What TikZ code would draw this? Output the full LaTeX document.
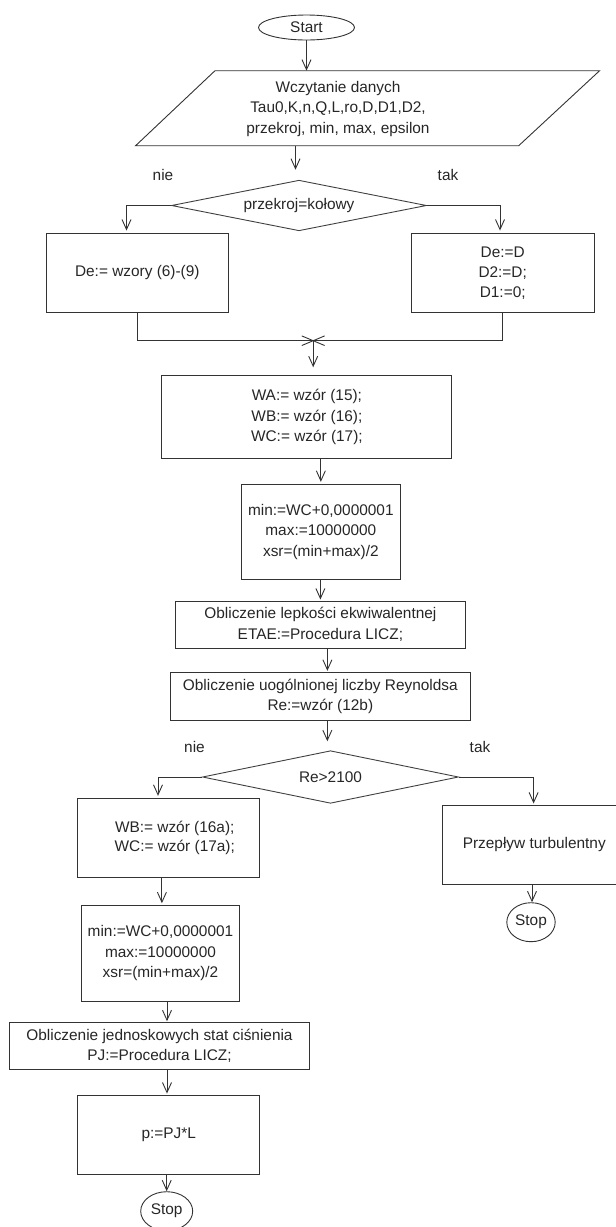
\documentclass[tikz,border=0pt]{standalone}
\usepackage{fontspec}
\setmainfont{Liberation Sans}
\usetikzlibrary{shapes.geometric,arrows.meta}
\begin{document}
\begin{tikzpicture}[x=1pt,y=1pt,
  every node/.style={font=\fontsize{15.4}{20.5}\selectfont, text=black!85},
  box/.style={draw=black!80, line width=0.9pt, rectangle, inner sep=1pt, align=center},
  term/.style={draw=black!80, line width=0.9pt, ellipse, inner sep=0pt},
  dec/.style={draw=black!75, line width=0.9pt, diamond, aspect=5, inner sep=0pt},
  conn/.style={draw=black!80, line width=0.9pt},
  arr/.style={conn, -{Straight Barb[length=10pt,width=9pt]}},
  lbl/.style={inner sep=0pt}
]
\useasboundingbox (0,0) rectangle (616,-1227);
\clip (0,0) rectangle (616,-1227);

% start and input
\node[term, minimum width=96pt, minimum height=25pt] (start) at (306.5,-27.5) {Start};
\draw[conn] (215,-70.7) -- (599.6,-70.7) -- (518.7,-145.7) -- (135.6,-145.7) -- cycle;
\node[align=center, inner sep=0pt] (input) at (338,-108.7) {Wczytanie danych\\Tau0,K,n,Q,L,ro,D,D1,D2,\\przekroj, min, max, epsilon};
\coordinate (inTop) at (306.5,-70.7);
\coordinate (inBot) at (295.5,-145.7);
\draw[arr] (start.south) -- (inTop);

% first decision
\node[dec, minimum width=255pt, minimum height=50.6pt] (d1) at (299,-205.5) {przekroj=kołowy};
\draw[arr, shorten >=10pt] (inBot) -- (inBot |- d1.north);
\node[lbl] (nie1) at (163,-175) {nie};
\node[lbl] (tak1) at (448,-175) {tak};

\node[box, minimum width=182.7pt, minimum height=79.7pt] (b1) at (137.3,-272.85) {De:= wzory (6)-(9)};
\node[box, minimum width=182.6pt, minimum height=79.7pt, font=\fontsize{15.4}{20}\selectfont] (b2) at (502.7,-272.85) {De:=D\\D2:=D;\\D1:=0;};
\draw[arr, shorten >=2pt] (d1.west) -| ([xshift=-10.8pt]b1.north);
\draw[arr, shorten >=2pt] (d1.east) -| ([xshift=-2.7pt]b2.north);

% merge
\coordinate (m) at (313.2,-340.7);
\draw[conn] (b1.south) |- (m) -| (b2.south);
\draw[conn] ([shift={(-11.4,4.8)}]m) -- ([shift={(11.4,-4.8)}]m);
\draw[conn] ([shift={(-11.4,-4.8)}]m) -- ([shift={(11.4,4.8)}]m);

\node[box, minimum width=290pt, minimum height=82.6pt] (wa) at (306.9,-417) {WA:= wzór (15);\\WB:= wzór (16);\\WC:= wzór (17);};
\draw[arr, shorten >=8pt] (m) -- (m |- wa.north);

\node[box, minimum width=158.3pt, minimum height=95pt] (min1) at (320.85,-531.8) {min:=WC+0,0000001\\max:=10000000\\xsr=(min+max)/2};
\draw[arr, shorten >=2pt] (min1.north |- wa.south) -- (min1.north);

\node[box, minimum width=289.6pt, minimum height=47pt] (lep) at (320.4,-624.5) {Obliczenie lepkości ekwiwalentnej\\ETAE:=Procedura LICZ;};
\draw[arr, shorten >=1pt] (lep.north |- min1.south) -- (lep.north);

\node[box, minimum width=300.7pt, minimum height=48pt] (rey) at (320.35,-696.3) {Obliczenie uogólnionej liczby Reynoldsa\\Re:=wzór (12b)};
\draw[arr, shorten >=1pt] ([xshift=7pt]lep.south) -- ([xshift=7pt]lep.south |- rey.north);

% second decision
\node[dec, minimum width=256pt, minimum height=52.6pt] (d2) at (330.5,-777) {Re>2100};
\draw[arr, shorten >=9pt] ([xshift=7pt]rey.south) -- ([xshift=7pt]rey.south |- d2.north);
\node[lbl] (nie2) at (194.5,-746.7) {nie};
\node[lbl] (tak2) at (480,-746.7) {tak};

\node[box, minimum width=181.9pt, minimum height=79.4pt, font=\fontsize{15.4}{19.5}\selectfont] (wb) at (168.75,-838) {\hspace*{12pt}WB:= wzór (16a);\\\hspace*{12pt}WC:= wzór (17a);};
\node[box, minimum width=183.3pt, minimum height=79.3pt] (turb) at (534.3,-844.6) {Przepływ turbulentny};
\draw[arr, shorten >=2pt] (d2.west) -| ([xshift=-10.75pt]wb.north);
\draw[arr, shorten >=1pt] (d2.east) -| ([xshift=-0.7pt]turb.north);

\node[term, minimum width=48.4pt, minimum height=39pt] (stop2) at (531,-922.2) {Stop};
\draw[arr] ([xshift=1pt]stop2.north |- turb.south) -- ([xshift=1pt]stop2.north);

\node[box, minimum width=158.4pt, minimum height=95.3pt] (min2) at (160.5,-953.35) {min:=WC+0,0000001\\max:=10000000\\xsr=(min+max)/2};
\draw[arr, shorten >=2pt] ([xshift=1.4pt]min2.north |- wb.south) -- ([xshift=1.4pt]min2.north);

\node[box, minimum width=299.4pt, minimum height=46.6pt] (jed) at (159.5,-1046) {Obliczenie jednoskowych stat ciśnienia\\PJ:=Procedura LICZ;};
\draw[arr, shorten >=1pt] ([xshift=7.5pt]jed.north |- min2.south) -- ([xshift=7.5pt]jed.north);

\node[box, minimum width=181.9pt, minimum height=79pt] (p) at (168.75,-1134.5) {p:=PJ*L};
\draw[arr, shorten >=1pt] ([xshift=-1.75pt]p.north |- jed.south) -- ([xshift=-1.75pt]p.north);

\node[term, minimum width=52pt, minimum height=39pt] (stop1) at (166.7,-1211.2) {Stop};
\draw[arr] (stop1.north |- p.south) -- (stop1.north);
\end{tikzpicture}
\end{document}
